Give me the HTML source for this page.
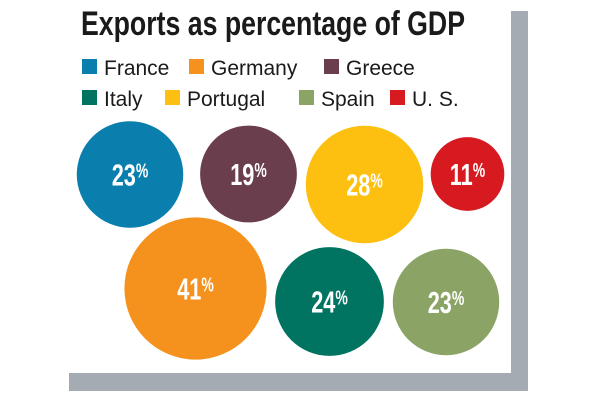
<!DOCTYPE html>
<html><head><meta charset="utf-8"><style>
html,body{margin:0;padding:0;background:#fff;width:600px;height:400px;overflow:hidden}
svg{display:block}
</style></head><body>
<svg id="chart" width="600" height="400" viewBox="0 0 600 400">
<rect x="511" y="11" width="17" height="380" fill="#a5abb2"/>
<rect x="69" y="373" width="459" height="18" fill="#a5abb2"/>
<text x="81" y="35" font-family="Liberation Sans, sans-serif" font-weight="bold" font-size="34" fill="#1a1a1a" textLength="384" lengthAdjust="spacingAndGlyphs">Exports as percentage of GDP</text>
<g id="legend"></g>
<g id="bubbles"></g>
</svg>
<script>
const countries = ["France","Germany","Greece","Italy","Portugal","Spain","U. S."];
const values = [23,41,19,24,28,23,11];
const colors = ["#0a7fae","#f5921e","#6b3e4e","#007461","#fdc010","#8ba466","#d71920"];
// layout slots (bubble centers)
const centersX = [130,195.5,248.5,329.5,364.5,446,467.5];
const centersY = [174.5,288.5,174,301.5,184.5,302,174];
const legendX = [82,189,324,82,165,299,390];
const legendRow = [0,0,0,1,1,1,1];
const NS = "http://www.w3.org/2000/svg";
function rScale(v){ return 11.1*Math.sqrt(v); }
const leg = document.getElementById('legend');
countries.forEach((c,i)=>{
  const y = 59 + legendRow[i]*31;
  const r = document.createElementNS(NS,'rect');
  r.setAttribute('x',legendX[i]); r.setAttribute('y',y);
  r.setAttribute('width',15); r.setAttribute('height',15);
  r.setAttribute('fill',colors[i]);
  
  
  leg.appendChild(r);
  const t = document.createElementNS(NS,'text');
  t.setAttribute('x',legendX[i]+22); t.setAttribute('y',y+16);
  t.setAttribute('font-family','Liberation Sans, sans-serif');
  t.setAttribute('font-size','21'); t.setAttribute('fill','#1a1a1a');
  t.textContent = c;
  
  
  leg.appendChild(t);
});
const bg = document.getElementById('bubbles');
values.forEach((v,i)=>{
  const c = document.createElementNS(NS,'circle');
  c.setAttribute('cx',centersX[i]); c.setAttribute('cy',centersY[i]);
  c.setAttribute('r',rScale(v)); c.setAttribute('fill',colors[i]);
  
  
  bg.appendChild(c);
  const t = document.createElementNS(NS,'text');
  t.setAttribute('x',centersX[i]); t.setAttribute('y',centersY[i]+11);
  t.setAttribute('text-anchor','middle');
  t.setAttribute('font-family','Liberation Sans, sans-serif');
  t.setAttribute('font-weight','bold'); t.setAttribute('fill','#fff');
  t.setAttribute('font-size','31');
  t.setAttribute('transform','translate('+centersX[i]+',0) scale(0.7,1) translate('+(-centersX[i])+',0)');
  const a = document.createElementNS(NS,'tspan'); a.textContent = v;
  const p = document.createElementNS(NS,'tspan'); p.textContent = '%';
  p.setAttribute('font-size','20'); p.setAttribute('dy','-8');
  t.appendChild(a); t.appendChild(p);
  
  
  bg.appendChild(t);
});
</script>
</body></html>
